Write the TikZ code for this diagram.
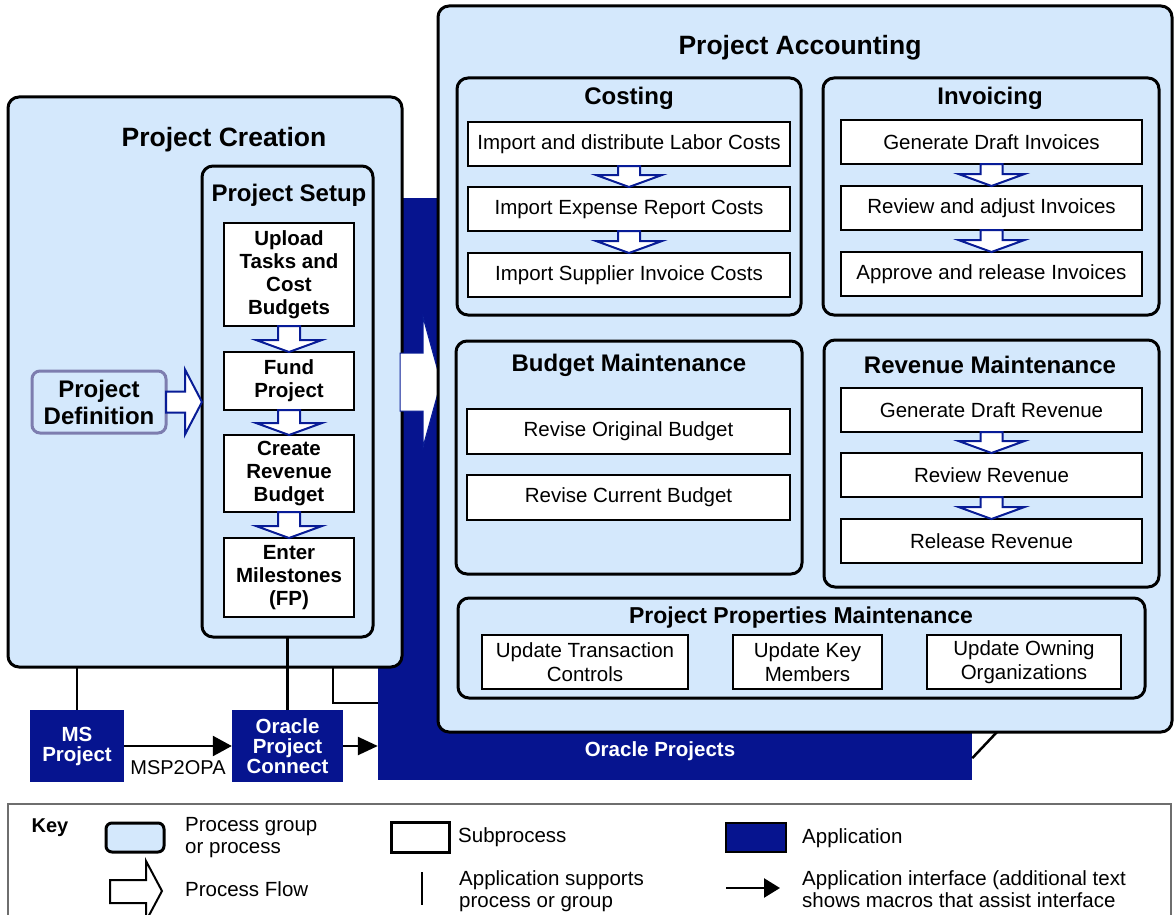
\documentclass[tikz,border=0pt]{standalone}
\usepackage{fontspec}
\setmainfont{Liberation Sans}
\usepackage{tikz}
\usetikzlibrary{positioning}
\usetikzlibrary{calc}
\usetikzlibrary{arrows.meta}

\definecolor{paleBlue}{RGB}{212,232,252}
\definecolor{appNavy}{RGB}{6,20,143}
\definecolor{flowBlue}{RGB}{8,28,150}
\definecolor{defBorder}{RGB}{125,125,175}
\definecolor{keyGray}{RGB}{110,110,110}

\tikzstyle{processGroup} = [rectangle, rounded corners=11pt, draw, fill=paleBlue, line width=3pt, outer sep=0pt, inner sep=0pt]
\tikzstyle{subProcess} = [rectangle, draw, fill=white, line width=2.6pt, outer sep=0pt, inner sep=1pt, align=center, font=\fontsize{20.5}{24}\selectfont]
\tikzstyle{setupStep} = [subProcess, font=\fontsize{20.5}{23}\selectfont\bfseries]
\tikzstyle{appBlock} = [rectangle, fill=appNavy, text=white, align=center, inner sep=0pt, font=\fontsize{20.5}{20}\selectfont\bfseries]
\tikzstyle{bigTitle} = [font=\fontsize{26.5}{30}\selectfont\bfseries]
\tikzstyle{groupTitle} = [font=\fontsize{24}{27}\selectfont\bfseries]
\tikzstyle{keyText} = [anchor=west, align=left, inner sep=0pt, font=\fontsize{20.5}{22}\selectfont]
\tikzstyle{flowArrow} = [draw=flowBlue, fill=white, line width=2pt]
\tikzstyle{supportLine} = [line width=2.5pt]
\tikzstyle{ifaceArrow} = [line width=2.5pt, -{Triangle[length=19pt,width=20pt]}]

% hollow blue arrow from one box down to the next
\newcommand{\flowDown}[2]{%
  \draw[flowArrow] ($(#1.south)+(-11,0)$) -- ($(#1.south)+(11,0)$)
    -- ($(#2.north)+(11,-12)$) -- ($(#2.north)+(33,-12)$) -- (#2.north)
    -- ($(#2.north)+(-33,-12)$) -- ($(#2.north)+(-11,-12)$) -- cycle;}

\begin{document}
\begin{tikzpicture}[x=1pt, y=-1pt]
    \useasboundingbox (0,0) rectangle (1175,915);

    % application behind everything
    \node (orcProj) [appBlock, minimum width=594pt, minimum height=582pt] at (675,489) {};

    % project creation
    \node (pc) [processGroup, minimum width=394pt, minimum height=570pt] at (205,382) {};
    \node (pcTitle) [bigTitle] at (224,140) {Project Creation};
    \node (setup) [processGroup, minimum width=171pt, minimum height=471pt] at (287.5,401.5) {};
    \node (setupTitle) [groupTitle] at (289,195) {Project Setup};
    \node (upload) [setupStep, minimum width=130pt, minimum height=103pt] at (289,274.5) {Upload\\Tasks and\\Cost\\Budgets};
    \node (fund) [setupStep, minimum width=130pt, minimum height=58pt, below=26pt of upload] {Fund\\Project};
    \node (createRev) [setupStep, minimum width=130pt, minimum height=77pt, below=25pt of fund] {Create\\Revenue\\Budget};
    \node (milestones) [setupStep, minimum width=130pt, minimum height=79pt, below=26pt of createRev] {Enter\\Milestones\\(FP)};
    \flowDown{upload}{fund}
    \flowDown{fund}{createRev}
    \flowDown{createRev}{milestones}

    \node (projDef) [processGroup, draw=defBorder, rounded corners=8pt, minimum width=134pt, minimum height=62pt, align=center, font=\fontsize{24}{27}\selectfont\bfseries] at (99,402) {Project\\Definition};
    \draw[flowArrow] ($(projDef.east)+(0,-10.5)$) -- ($(setup.west |- projDef.east)+(-17,-10.5)$)
        -- ($(setup.west |- projDef.east)+(-17,-32.5)$) -- (setup.west |- projDef.east)
        -- ($(setup.west |- projDef.east)+(-17,32.5)$) -- ($(setup.west |- projDef.east)+(-17,10.5)$)
        -- ($(projDef.east)+(0,10.5)$) -- cycle;

    % big flow into accounting
    \draw[flowArrow, line width=1pt] ($(pc.east)+(-2,-29)$) -- ($(pc.east)+(21,-29)$) -- ($(pc.east)+(21,-65)$)
        -- ($(pc.east)+(39,0)$) -- ($(pc.east)+(21,65)$) -- ($(pc.east)+(21,29)$) -- ($(pc.east)+(-2,29)$) -- cycle;

    % project accounting
    \node (pa) [processGroup, minimum width=734pt, minimum height=726pt] at (805,369) {};
    \node (paTitle) [bigTitle] at (800,48) {Project Accounting};

    \node (costing) [processGroup, minimum width=344pt, minimum height=237pt] at (629,196.5) {};
    \node (costingTitle) [groupTitle] at (629,98) {Costing};
    \node (labor) [subProcess, minimum width=322pt, minimum height=44pt] at (629,144) {Import and distribute Labor Costs};
    \node (expense) [subProcess, minimum width=322pt, minimum height=44pt, below=21pt of labor] {Import Expense Report Costs};
    \node (supplier) [subProcess, minimum width=322pt, minimum height=44pt, below=22pt of expense] {Import Supplier Invoice Costs};
    \flowDown{labor}{expense}
    \flowDown{expense}{supplier}

    \node (invoicing) [processGroup, minimum width=336pt, minimum height=237pt] at (991,196.5) {};
    \node (invTitle) [groupTitle] at (990,98) {Invoicing};
    \node (genInv) [subProcess, minimum width=301pt, minimum height=44pt] at (991.5,142) {Generate Draft Invoices};
    \node (reviewInv) [subProcess, minimum width=301pt, minimum height=44pt, below=22pt of genInv] {Review and adjust Invoices};
    \node (approveInv) [subProcess, minimum width=301pt, minimum height=44pt, below=22pt of reviewInv] {Approve and release Invoices};
    \flowDown{genInv}{reviewInv}
    \flowDown{reviewInv}{approveInv}

    \node (budget) [processGroup, minimum width=346pt, minimum height=233pt] at (629,457.5) {};
    \node (budTitle) [groupTitle] at (629,365) {Budget Maintenance};
    \node (reviseOrig) [subProcess, minimum width=323pt, minimum height=45pt] at (628.5,431.5) {Revise Original Budget};
    \node (reviseCur) [subProcess, minimum width=323pt, minimum height=45pt, below=21pt of reviseOrig] {Revise Current Budget};

    \node (revenue) [processGroup, minimum width=335pt, minimum height=247pt] at (991.5,463.5) {};
    \node (revTitle) [groupTitle] at (990,365) {Revenue Maintenance};
    \node (genRev) [subProcess, minimum width=301pt, minimum height=44pt] at (991.5,410) {Generate Draft Revenue};
    \node (reviewRev) [subProcess, minimum width=301pt, minimum height=44pt, below=21pt of genRev] {Review Revenue};
    \node (releaseRev) [subProcess, minimum width=301pt, minimum height=44pt, below=22pt of reviewRev] {Release Revenue};
    \flowDown{genRev}{reviewRev}
    \flowDown{reviewRev}{releaseRev}

    \node (props) [processGroup, minimum width=687pt, minimum height=100pt] at (801.5,648) {};
    \node (propsTitle) [font=\fontsize{23}{26}\selectfont\bfseries] at (801,618) {Project Properties Maintenance};
    \node (updTrans) [subProcess, minimum width=206pt, minimum height=54pt] at (585,662) {Update Transaction\\Controls};
    \node (updKey) [subProcess, minimum width=149pt, minimum height=54pt] at (807.5,662) {Update Key\\Members};
    \node (updOrg) [subProcess, minimum width=194pt, minimum height=54pt] at (1024,662) {Update Owning\\Organizations};

    \node (oraLabel) [appBlock] at (660,751) {Oracle Projects};
    \draw[supportLine] ($(orcProj.south east)+(0,-22)$) -- ($(pa.south)+(192,0)$);

    % applications and interfaces
    \node (msp) [appBlock, minimum width=94pt, minimum height=72pt] at (77,746) {MS\\Project};
    \node (opc) [appBlock, minimum width=111pt, minimum height=72pt] at (287.5,746) {Oracle\\Project\\Connect};
    \draw[ifaceArrow] (msp) -- node[below=10pt, font=\fontsize{20}{22}\selectfont] {MSP2OPA} (opc);
    \draw[ifaceArrow, -{Triangle[length=20pt,width=18pt]}] (opc.east) -- (opc.east -| orcProj.west);
    \draw[supportLine] (msp.north) -- (msp.north |- pc.south);
    \draw[supportLine] (opc) -- (setup);
    \draw[supportLine] ($(pc.south)+(128,0)$) |- ($(orcProj.west)+(0,214)$);

    % key
    \draw[keyGray, line width=1.5pt] (8,920) |- (1171,804) -- (1171,920);
    \node (keyHead) [font=\fontsize{20}{22}\selectfont\bfseries] at (50,828) {Key};
    \node (keyGroup) [processGroup, rounded corners=6pt, minimum width=58pt, minimum height=29pt] at (135,837.5) {};
    \node (keyGroupText) [keyText] at (185,838) {Process group\\or process};
    \node (keySub) [subProcess, line width=3pt, minimum width=58pt, minimum height=30pt] at (420,837) {};
    \node (keySubText) [keyText] at (458,837) {Subprocess};
    \node (keyApp) [appBlock, draw=black, line width=2.5pt, minimum width=60pt, minimum height=29pt] at (756,837.5) {};
    \node (keyAppText) [keyText] at (802,838) {Application};
    \draw[line width=2pt, fill=white] (110,880) -- (146,880) -- (146,861) -- (162,891) -- (146,921) -- (146,903) -- (110,903) -- cycle;
    \node (keyFlowText) [keyText] at (185,889) {Process Flow};
    \draw[line width=2pt] (422,872) -- (422,905);
    \node (keySupText) [keyText] at (459,891) {Application supports\\process or group};
    \draw[ifaceArrow, -{Triangle[length=16pt,width=19pt]}] (726,888) -- (780,888);
    \node (keyIfaceText) [keyText] at (802,889) {Application interface (additional text\\shows macros that assist interface};
\end{tikzpicture}
\end{document}
